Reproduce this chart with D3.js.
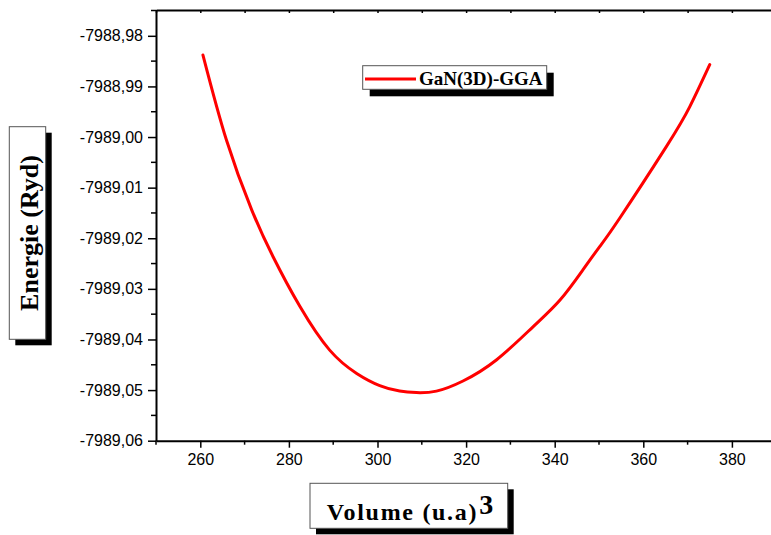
<!DOCTYPE html>
<html>
<head>
<meta charset="utf-8">
<script src="https://cdn.jsdelivr.net/npm/d3@7"></script>
<style>
  html, body { margin: 0; padding: 0; background: #fff; }
  #chart { width: 771px; height: 535px; }
</style>
</head>
<body>
<div id="chart"></div>
<script>
// values
const volume = [260.6, 265.9, 271.6, 276.4, 282.5, 289.2, 295.3, 300.5, 305.0, 308.8, 313.3, 319.3, 326.9, 335.1, 341.2, 346.4, 350.2, 354.7, 365.2, 370.5, 375.0];
const energy = [-7988.9838, -7989.0006, -7989.0144, -7989.0236, -7989.0335, -7989.0421, -7989.0467, -7989.0491, -7989.0502, -7989.0505, -7989.0502, -7989.0482, -7989.0440, -7989.0375, -7989.0322, -7989.0262, -7989.0216, -7989.0160, -7989.0019, -7988.9940, -7988.9857];
const seriesName = 'GaN(3D)-GGA';

const xTicks = [260, 280, 300, 320, 340, 360, 380];
const xMinorTicks = [250, 270, 290, 310, 330, 350, 370, 390];
const yTicks = [-7988.98, -7988.99, -7989.00, -7989.01, -7989.02, -7989.03, -7989.04, -7989.05, -7989.06];
const yMinorTicks = [-7988.975, -7988.985, -7988.995, -7989.005, -7989.015, -7989.025, -7989.035, -7989.045, -7989.055];

const data = volume.map((v, i) => ({ v: v, e: energy[i] }));

const W = 771, H = 535;
const plotLeft = 156, plotTop = 10, plotBottom = 440.7;

const svg = d3.select('#chart')
  .append('svg')
  .attr('width', W)
  .attr('height', H);

const x = d3.scaleLinear()
  .domain([250, 390])
  .range([plotLeft, plotLeft + 140 * 4.43]);

const y = d3.scaleLinear()
  .domain([-7989.06, -7988.9749])
  .range([plotBottom, plotTop]);

const fmt = d => d.toFixed(2).replace('.', ',');

// bottom axis
const bAxis = svg.append('g')
  .attr('transform', `translate(0,${plotBottom})`);
bAxis.call(d3.axisBottom(x).tickValues(xTicks).tickSize(7).tickSizeOuter(0).tickPadding(6).tickFormat(d3.format('d')));
bAxis.append('g')
  .selectAll('line')
  .data(xMinorTicks)
  .enter()
  .append('line')
  .attr('x1', d => x(d))
  .attr('x2', d => x(d))
  .attr('y1', 0)
  .attr('y2', 4)
  .attr('stroke', '#000')
  .attr('stroke-width', 1.5);

// top axis, small inner ticks only
const tAxis = svg.append('g')
  .attr('transform', `translate(0,${plotTop})`);
tAxis.call(d3.axisTop(x).tickValues(xTicks.concat(xMinorTicks)).tickSize(-3).tickSizeOuter(0).tickFormat(''));

// left axis
const lAxis = svg.append('g')
  .attr('transform', `translate(${plotLeft},0)`);
lAxis.call(d3.axisLeft(y).tickValues(yTicks).tickSize(8).tickSizeOuter(0).tickPadding(5).tickFormat(fmt));
lAxis.append('g')
  .selectAll('line')
  .data(yMinorTicks)
  .enter()
  .append('line')
  .attr('x1', -5)
  .attr('x2', 0)
  .attr('y1', d => y(d))
  .attr('y2', d => y(d))
  .attr('stroke', '#000')
  .attr('stroke-width', 1.5);

[bAxis, tAxis, lAxis].forEach(g => {
  g.select('.domain').attr('stroke', '#000').attr('stroke-width', 2);
  g.selectAll('.tick line').attr('stroke', '#000').attr('stroke-width', 1.5);
  g.selectAll('text')
    .attr('fill', '#000')
    .style('font-family', '"Liberation Sans", Arial, sans-serif')
    .style('font-size', '16px');
});

// the curve
const line = d3.line()
  .x(d => x(d.v))
  .y(d => y(d.e))
  .curve(d3.curveNatural);

svg.append('path')
  .datum(data)
  .attr('fill', 'none')
  .attr('stroke', '#ff0000')
  .attr('stroke-width', 3)
  .attr('stroke-linecap', 'round')
  .attr('d', line);

// legend
const legend = svg.append('g');
legend.append('rect')
  .attr('x', 369.7).attr('y', 72.7)
  .attr('width', 184).attr('height', 23.6)
  .attr('fill', '#000');
legend.append('rect')
  .attr('x', 362.7).attr('y', 65.7)
  .attr('width', 184).attr('height', 23.6)
  .attr('fill', '#fff')
  .attr('stroke', '#555')
  .attr('stroke-width', 1);
legend.append('line')
  .attr('x1', 365).attr('x2', 416)
  .attr('y1', 79).attr('y2', 79)
  .attr('stroke', '#ff0000')
  .attr('stroke-width', 3);
legend.append('text')
  .attr('x', 419).attr('y', 85)
  .style('font-family', '"Liberation Serif", "Times New Roman", serif')
  .style('font-weight', 'bold')
  .style('font-size', '19px')
  .text(seriesName);

// y title
const yt = svg.append('g');
yt.append('rect')
  .attr('x', 15.3).attr('y', 132.7)
  .attr('width', 36.4).attr('height', 212.6)
  .attr('fill', '#000');
yt.append('rect')
  .attr('x', 9.3).attr('y', 126.7)
  .attr('width', 36.4).attr('height', 212.6)
  .attr('fill', '#fff')
  .attr('stroke', '#555')
  .attr('stroke-width', 1);
yt.append('text')
  .attr('transform', 'translate(38.3,233) rotate(-90)')
  .attr('text-anchor', 'middle')
  .style('font-family', '"Liberation Serif", "Times New Roman", serif')
  .style('font-weight', 'bold')
  .style('font-size', '26px')
  .text('Energie (Ryd)');

// x title
const xt = svg.append('g');
xt.append('rect')
  .attr('x', 316).attr('y', 489.3)
  .attr('width', 197.7).attr('height', 45)
  .attr('fill', '#000');
xt.append('rect')
  .attr('x', 310).attr('y', 483.3)
  .attr('width', 197.7).attr('height', 45)
  .attr('fill', '#fff')
  .attr('stroke', '#555')
  .attr('stroke-width', 1);
const xtText = xt.append('text')
  .attr('x', 326.7).attr('y', 520)
  .style('font-family', '"Liberation Serif", "Times New Roman", serif')
  .style('font-weight', 'bold')
  .style('font-size', '24px')
  .style('letter-spacing', '1.7px');
xtText.append('tspan').text('Volume (u.a)');
xtText.append('tspan')
  .attr('dy', -6)
  .attr('dx', 1)
  .style('font-size', '28px')
  .style('letter-spacing', '0px')
  .text('3');
</script>
</body>
</html>
